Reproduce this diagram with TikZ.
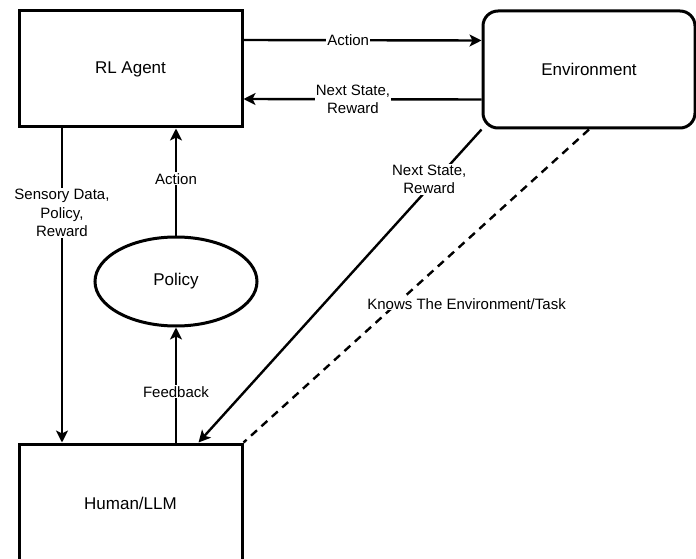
\documentclass[tikz,border=0pt]{standalone}
\usepackage{fontspec}
\setmainfont{Liberation Sans}
\usetikzlibrary{shapes,positioning,arrows.meta,calc}

\begin{document}
\begin{tikzpicture}[x=1pt,y=-1pt,
    box/.style={rectangle,draw,line width=3pt,minimum width=223pt,minimum height=116pt,font=\fontsize{17}{20}\selectfont},
    lbl/.style={fill=white,inner sep=1pt,align=center,font=\fontsize{15}{18.5}\selectfont}]
  \useasboundingbox (0,0) rectangle (696,559);
  \begin{scope}[>={Stealth[length=12pt,width=12pt,inset=3pt]},line width=2.4pt]
    \node (agent) at (130.5,69) [box]{RL Agent};
    \node (env) at (589,69.5) [box,rounded corners=15pt,minimum width=212pt,minimum height=117pt]{Environment};
    \node (policy) at (176,281.5) [ellipse,draw,line width=3pt,minimum width=162pt,minimum height=89pt,font=\fontsize{17}{20}\selectfont]{Policy};
    \node (human) at (130.5,503) [box,minimum height=118pt]{Human/LLM};

    \draw[->] ([yshift=29pt]agent.east) -- node[lbl,pos=0.44]{Action} ([yshift=29pt]env.west);
    \draw[->] ([yshift=-30pt]env.west) -- node[lbl,pos=0.54]{Next State,\\Reward} ([yshift=-30pt]agent.east);
    \draw[->] ([xshift=-68.5pt]agent.south) -- node[lbl,pos=0.27]{Sensory Data,\\Policy,\\Reward} ([xshift=-68.5pt]human.north);
    \draw[->] (policy.north) -- node[lbl,pos=0.53]{Action} (policy.north |- agent.south);
    \draw[->] (human.north -| policy.south) -- node[lbl,pos=0.44]{Feedback} (policy.south);
    \draw[->] (env.south west) -- node[lbl,pos=0.16,xshift=-7pt]{Next State,\\Reward} ([xshift=68pt]human.north);
    \draw[dash pattern=on 8pt off 6pt] (env.south) -- node[lbl,pos=0.557,xshift=70pt]{Knows The Environment/Task} (human.north east);
  \end{scope}
\end{tikzpicture}
\end{document}
